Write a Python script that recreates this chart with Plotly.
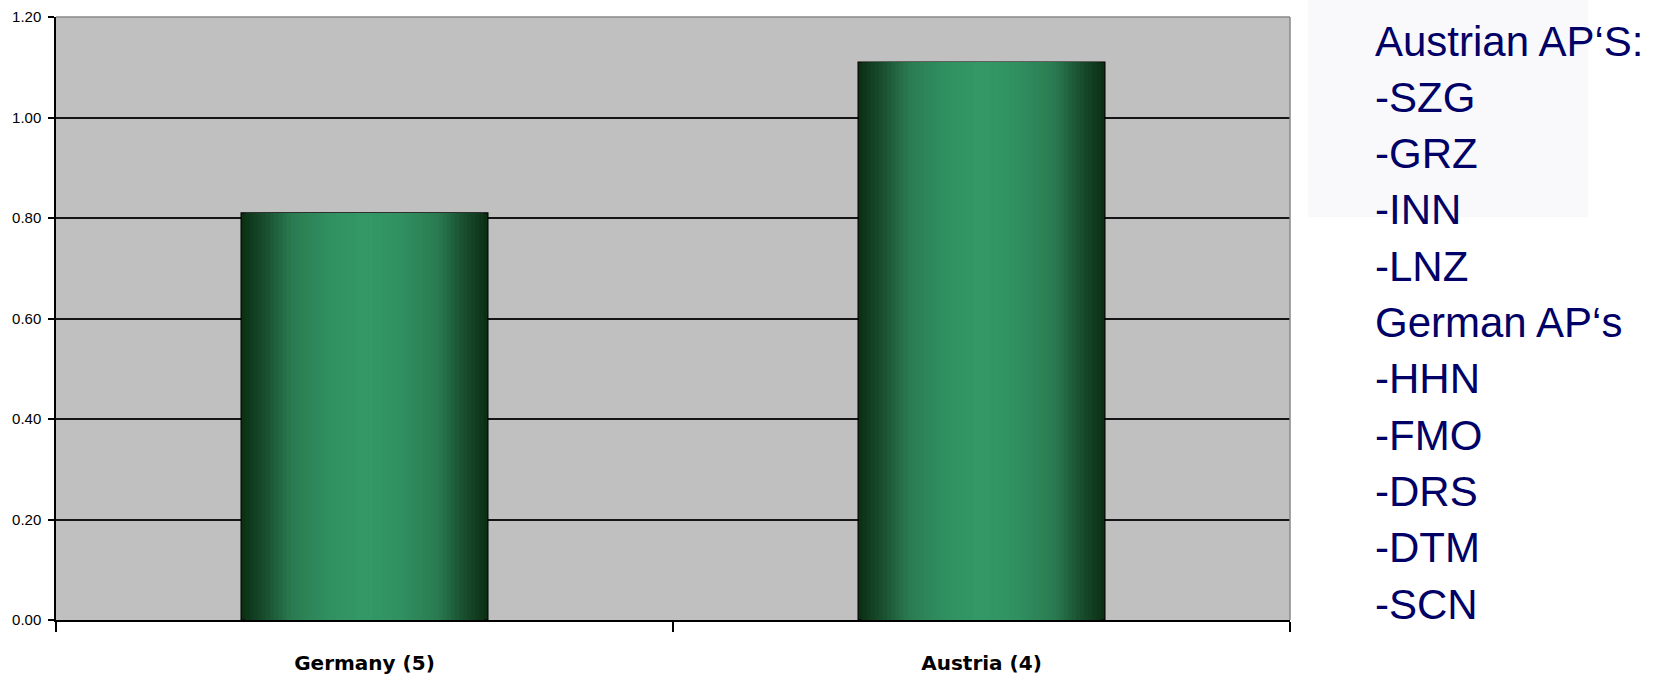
import plotly.graph_objects as go

# ---- data ----
categories = ["Germany (5)", "Austria (4)"]
values = [0.81, 1.11]
y_ticks = [0.0, 0.2, 0.4, 0.6, 0.8, 1.0, 1.2]
side_lines = ["Austrian AP\u2018S:", "-SZG", "-GRZ", "-INN", "-LNZ",
              "German AP\u2018s", "-HHN", "-FMO", "-DRS", "-DTM", "-SCN"]

# ---- layout geometry (pixels) ----
W, H = 1656, 677
L, R, T, B = 56, 366, 17, 57
plot_w = W - L - R
plot_h = H - T - B

BAR_W = 0.4
N = 30

# gradient stops: distance from centre (0) to edge (1)
stops = [(0.0, (51, 153, 102)), (0.3, (48, 144, 96)), (0.6, (42, 122, 80)),
         (0.82, (24, 75, 44)), (1.0, (10, 46, 18))]


def col(d):
    for (d0, c0), (d1, c1) in zip(stops[:-1], stops[1:]):
        if d0 <= d <= d1:
            t = (d - d0) / (d1 - d0)
            c = [round(a + (b - a) * t) for a, b in zip(c0, c1)]
            return "rgb(%d,%d,%d)" % tuple(c)
    return "rgb(%d,%d,%d)" % stops[-1][1]


fig = go.Figure()
for k in range(N):
    frac = 1 - k / N
    dmid = 1 - (k + 0.5) / N
    fig.add_trace(go.Bar(
        x=categories, y=values, width=BAR_W * frac,
        marker=dict(color=col(dmid),
                    line=dict(color="black", width=1.2 if k == 0 else 0)),
        showlegend=False, hoverinfo="skip" if k else None,
    ))

# faint watermark behind the side text
fig.add_shape(type="rect", xref="paper", yref="paper",
              x0=(1308 - L) / plot_w, x1=(1588 - L) / plot_w,
              y0=(H - B - 217) / plot_h, y1=(H - B + 5) / plot_h,
              fillcolor="#f9f9fb", line=dict(width=0), layer="below")

# grey top / right frame of the plot area
fig.add_shape(type="line", xref="paper", yref="paper", x0=0, x1=1, y0=1, y1=1,
              line=dict(color="#8a8a8a", width=1.5), layer="above")
fig.add_shape(type="line", xref="paper", yref="paper", x0=1, x1=1, y0=0, y1=1,
              line=dict(color="#8a8a8a", width=1.5), layer="above")

# side text
base0, step = 55, 56.3
for i, txt in enumerate(side_lines):
    py = base0 + i * step - 14
    fig.add_annotation(
        text=txt, xref="paper", yref="paper",
        x=(1373 - L) / plot_w, y=(H - B - py) / plot_h,
        xanchor="left", yanchor="middle", showarrow=False,
        font=dict(family="Liberation Sans, Arial", size=42, color="#000066"),
    )

fig.update_layout(
    width=W, height=H,
    margin=dict(l=L, r=R, t=T, b=B, pad=0, autoexpand=False),
    barmode="overlay",
    paper_bgcolor="white",
    plot_bgcolor="#c0c0c0",
    xaxis=dict(
        type="category", tickson="boundaries", ticks="outside", ticklen=10,
        tickcolor="black", tickwidth=1.5,
        showline=True, linecolor="black", linewidth=1.5,
        showgrid=False, zeroline=False, automargin=False,
        tickfont=dict(family="DejaVu Sans", size=20, color="black", weight="bold"),
        ticklabelstandoff=24,
    ),
    yaxis=dict(
        range=[0, 1.2], tickvals=y_ticks,
        ticktext=["%.2f" % v for v in y_ticks],
        ticks="outside", ticklen=6, tickcolor="black", tickwidth=1.5,
        showline=True, linecolor="black", linewidth=1.5,
        showgrid=True, gridcolor="#151515", gridwidth=1.5,
        zeroline=False, automargin=False,
        tickfont=dict(family="Liberation Sans, Arial", size=15, color="black"),
        ticklabelstandoff=4,
    ),
)

fig.write_html("out.html")
